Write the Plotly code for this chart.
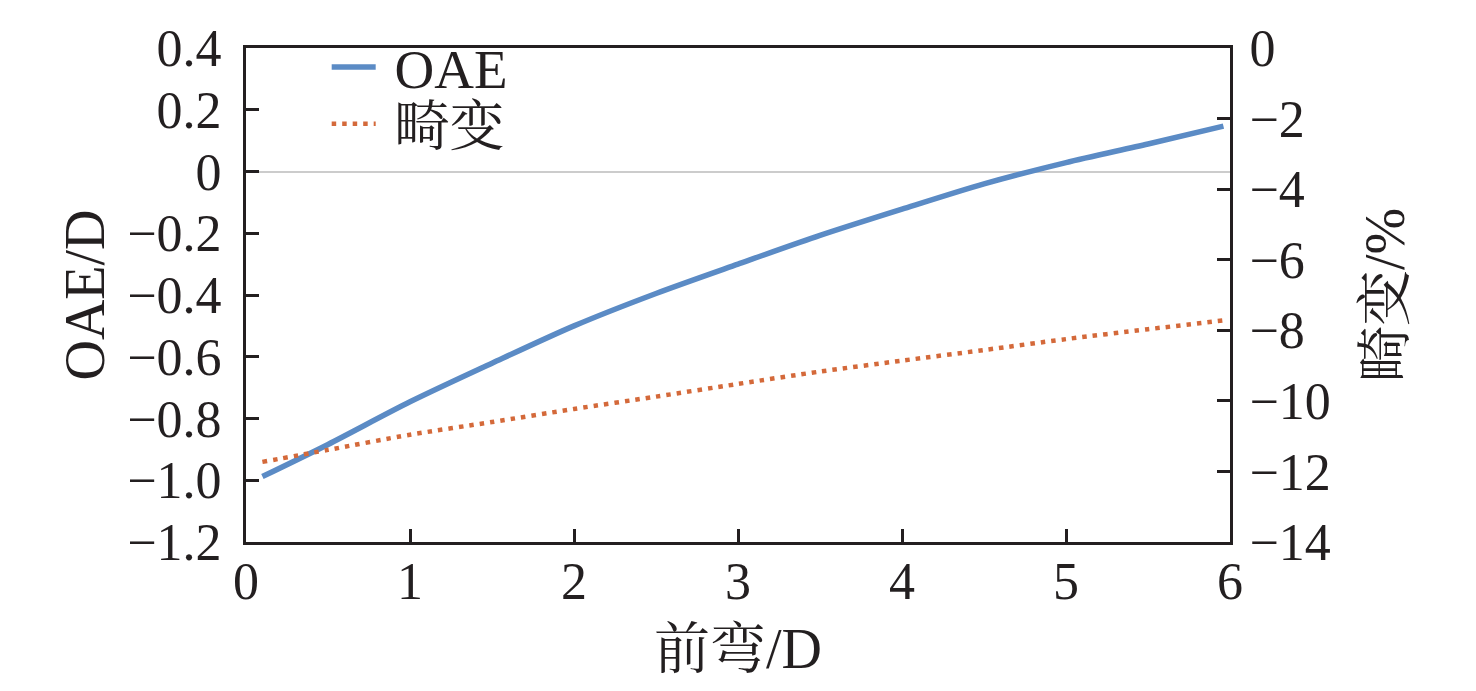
import plotly.graph_objects as go

x_vals = [0.1, 0.5, 1.0, 1.5, 2.0, 2.5, 3.0, 3.5, 4.0, 4.5, 5.0, 5.5, 5.96]
oae_vals = [-0.988, -0.884, -0.746, -0.621, -0.500, -0.395, -0.300, -0.207, -0.122, -0.040, 0.029, 0.089, 0.147]
dist_vals = [-11.73, -11.39, -10.96, -10.60, -10.23, -9.88, -9.52, -9.17, -8.86, -8.56, -8.25, -7.97, -7.72]

x_ticks = [0, 1, 2, 3, 4, 5, 6]
y1_ticks = [0.4, 0.2, 0, -0.2, -0.4, -0.6, -0.8, -1.0, -1.2]
y1_labels = ["0.4", "0.2", "0", "\u22120.2", "\u22120.4", "\u22120.6", "\u22120.8", "\u22121.0", "\u22121.2"]
y2_ticks = [0, -2, -4, -6, -8, -10, -12, -14]
y2_labels = ["0", "\u22122", "\u22124", "\u22126", "\u22128", "\u221210", "\u221212", "\u221214"]

FONT = "Liberation Serif, Noto Serif CJK SC, Noto Sans CJK SC, serif"
AX = "#231f20"

fig = go.Figure()
fig.add_trace(go.Scatter(x=x_vals, y=oae_vals, name="&nbsp;OAE", mode="lines",
                         line=dict(color="#5b8bc5", width=5.5, shape="spline", smoothing=0.8),
                         yaxis="y", legend="legend"))
fig.add_trace(go.Scatter(x=x_vals, y=dist_vals, name="&nbsp;畸变", mode="lines",
                         line=dict(color="#d4693a", width=4.5, dash="4.5px,6px", shape="spline", smoothing=0.8),
                         yaxis="y2", legend="legend2"))

leg_common = dict(xanchor="left", yanchor="middle", bgcolor="rgba(0,0,0,0)",
                  font=dict(size=55, family=FONT, color=AX), itemwidth=44)

fig.update_layout(
    width=1476, height=691,
    margin=dict(l=238, r=254, t=28, b=157),
    paper_bgcolor="white", plot_bgcolor="white",
    font=dict(family=FONT, size=52, color=AX),
    showlegend=True,
    legend=dict(x=0.082, y=0.961, **leg_common),
    legend2=dict(x=0.082, y=0.846, **leg_common),
    xaxis=dict(range=[0, 6], tickvals=x_ticks, ticktext=[str(t) for t in x_ticks],
               showgrid=False, zeroline=False, showline=True, linecolor=AX, linewidth=3,
               mirror=True, ticks="inside", ticklen=13, tickwidth=3, tickcolor=AX,
               tickfont=dict(size=52), ticklabelstandoff=-8,
               title=dict(text="前弯/D", font=dict(size=56), standoff=20)),
    yaxis=dict(range=[-1.2, 0.4], tickvals=y1_ticks, ticktext=y1_labels,
               showgrid=False, zeroline=True, zerolinecolor="#cccccc", zerolinewidth=1.5,
               showline=True, linecolor=AX, linewidth=3,
               ticks="inside", ticklen=13, tickwidth=3, tickcolor=AX,
               tickfont=dict(size=52), ticklabelstandoff=11,
               title=dict(text="OAE/D", font=dict(size=56), standoff=5)),
    yaxis2=dict(range=[-14, 0], tickvals=y2_ticks, ticktext=y2_labels,
                overlaying="y", side="right", anchor="x",
                showgrid=False, zeroline=False, showline=True, linecolor=AX, linewidth=3,
                ticks="inside", ticklen=13, tickwidth=3, tickcolor=AX,
                tickfont=dict(size=52), ticklabelstandoff=6,
                title=dict(text="畸变/%", font=dict(size=56), standoff=36)),
)

fig.write_html("out.html")
